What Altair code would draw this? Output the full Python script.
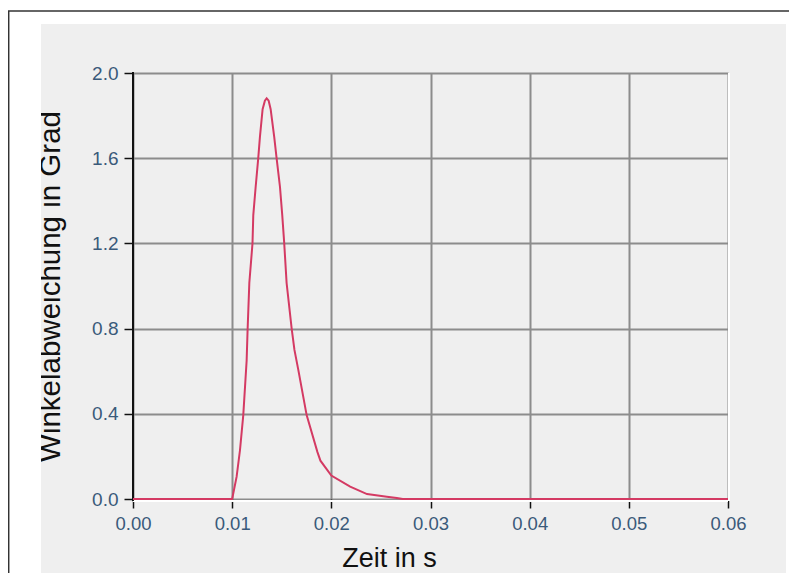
import altair as alt
import pandas as pd

# ---- data ----
zeit = [0.0, 0.0100, 0.01045, 0.01079, 0.01112, 0.01146, 0.01156, 0.01173, 0.01205, 0.01213,
        0.01237, 0.01263, 0.01280, 0.01307, 0.01330, 0.01348, 0.01368, 0.01388, 0.01424, 0.01448,
        0.01482, 0.01505, 0.01525, 0.01549, 0.01600, 0.01628, 0.01667, 0.01751, 0.01860, 0.01890,
        0.02000, 0.02190, 0.02360, 0.02560, 0.02660, 0.02720, 0.06]
winkel = [0.0, 0.0, 0.105, 0.23, 0.394, 0.65, 0.80, 1.014, 1.20, 1.333,
          1.466, 1.60, 1.70, 1.83, 1.87, 1.881, 1.87, 1.83, 1.70, 1.60,
          1.466, 1.333, 1.20, 1.014, 0.80, 0.70, 0.606, 0.394, 0.22, 0.18,
          0.11, 0.058, 0.023, 0.011, 0.005, 0.0, 0.0]
x_ticks = [0.0, 0.01, 0.02, 0.03, 0.04, 0.05, 0.06]
y_ticks = [0.0, 0.4, 0.8, 1.2, 1.6, 2.0]

df = pd.DataFrame({"t": zeit, "w": winkel})

W, H = 595, 426
FONT = "Liberation Sans"
LABEL_COLOR = "#3a5a7a"
GRID = "#8c8c8c"
one = alt.Data(values=[{"a": 1}])

def rect(x, x2, y, y2, color):
    return alt.Chart(one).mark_rect(color=color).encode(
        x=alt.value(x), x2=alt.value(x2), y=alt.value(y), y2=alt.value(y2))

def rule(x, x2, y, y2, color, width):
    return alt.Chart(one).mark_rule(color=color, strokeWidth=width).encode(
        x=alt.value(x), x2=alt.value(x2), y=alt.value(y), y2=alt.value(y2))

line = alt.Chart(df).mark_line(color="#d43a63", strokeWidth=2).encode(
    x=alt.X("t:Q", scale=alt.Scale(domain=[0, 0.06], nice=False),
            axis=alt.Axis(values=x_ticks, format=".2f", title="Zeit in s",
                          titleX=256, titleY=67, titleAlign="center",
                          titleBaseline="alphabetic", titleFontSize=27,
                          tickSize=9, labelPadding=6, labelFlush=False,
                          labelFontSize=18.5)),
    y=alt.Y("w:Q", scale=alt.Scale(domain=[0, 2.0], nice=False),
            axis=alt.Axis(values=y_ticks, format=".1f", title="Winkelabweichung in Grad",
                          titleX=-74, titleY=213, titleAngle=-90, titleAlign="center",
                          titleBaseline="alphabetic", titleFontSize=29.5,
                          tickSize=9, labelPadding=6, labelFontSize=19)),
)

layers = [
    # white margins outside the grey panel
    rect(-125, 656, -65, -49, "white"),
    rect(-125, -92, -65, 500, "white"),
    rect(653, 656, -65, 500, "white"),
    # outer frame
    rule(-125, 656, -62, -62, "#333333", 1.5),
    rule(-124.3, -124.3, -62, 500, "#333333", 1.5),
    # plot-area edges
    rule(0, 595, 428, 428, "white", 2),
    rule(596, 596, 0, 428, "white", 2),
    rule(0, 0, -1, 428, "#111111", 2),
    line,
]

chart = alt.layer(*layers).properties(
    width=W, height=H,
    autosize="none",
    padding={"left": 125, "top": 65, "right": 61, "bottom": 74},
    background="#efefef",
).configure_view(stroke=None).configure_axis(
    grid=True, gridColor=GRID, gridWidth=2, domain=False,
    tickColor="#111111", tickWidth=1.5,
    labelFont=FONT, labelColor=LABEL_COLOR,
    titleFont=FONT, titleColor="#111111", titleFontWeight="normal",
)

chart.save("out.html", embed_options={"renderer": "svg", "actions": False})
